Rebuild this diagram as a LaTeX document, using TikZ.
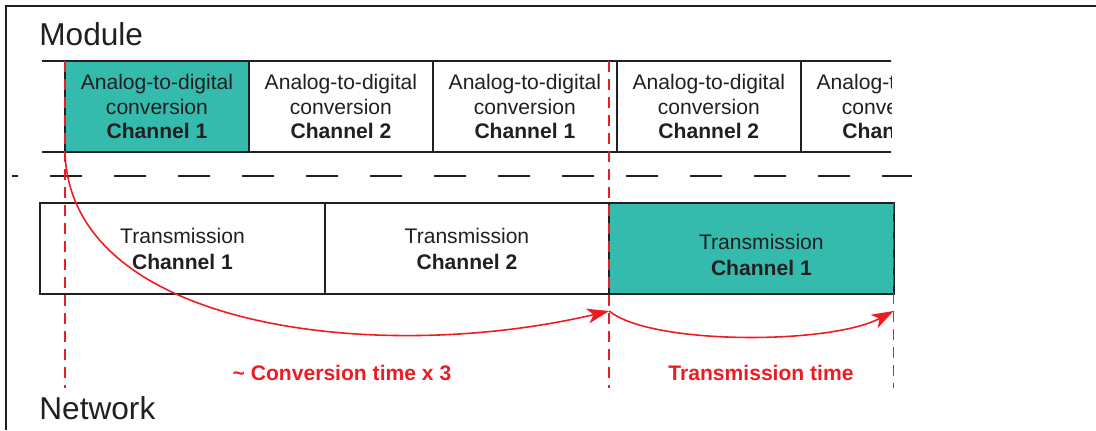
\documentclass[tikz,border=0pt]{standalone}
\usepackage{fontspec}
\setmainfont{Liberation Sans}
\usepackage{tikz}
\usetikzlibrary{arrows.meta,chains}
\definecolor{tealfill}{RGB}{52,187,173}
\definecolor{redline}{RGB}{237,28,36}
\definecolor{darktext}{RGB}{35,31,32}

\begin{document}
\begin{tikzpicture}[
x=0.02cm, y=-0.02cm,
node distance=0pt,
    X/.style = {rectangle, draw=darktext, line width=1.1pt,% boxes of the module row
                minimum width=3.68cm, minimum height=1.82cm,
                inner sep=0pt, outer sep=0pt, align=center,
                font=\fontsize{12}{14.2}\selectfont, on chain},
    T/.style = {rectangle, draw=darktext, line width=1.1pt,% boxes of the network row
                minimum width=5.69cm, minimum height=1.82cm,
                inner sep=0pt, outer sep=0pt, align=center,
                font=\fontsize{12}{14.8}\selectfont, on chain},
    hot/.style = {fill=tealfill},
    guide/.style = {draw=redline, line width=0.9pt, dash pattern=on 0.22cm off 0.14cm},
    timearc/.style = {draw=redline, line width=0.9pt,
                -{Stealth[length=0.44cm, width=0.3cm, inset=0.12cm]}},
    title/.style = {anchor=base west, inner sep=0pt, font=\fontsize{18}{20}\selectfont},
    timelabel/.style = {text=redline, font=\fontsize{12}{14}\selectfont\bfseries},
                        ]
\useasboundingbox (0,0) rectangle (1096,430);
\draw[darktext, line width=0.8pt] (1096,6) -- (6,6) -- (6,430);
\node[title, text=darktext] (module) at (39,45) {Module};
\node[title, text=darktext] (network) at (39,419) {Network};
% module row, cut at both ends
\begin{scope}
\clip (42,40) rectangle (891,170);
\begin{scope}[shift={(-27,106.5)}, start chain=A going right, text=darktext]
\node[X] {};
\node[X, hot] {Analog-to-digital\\conversion\\\textbf{Channel 1}};
\foreach \i in {2,1,2,1}% <-- channel of each conversion
    \node[X] {Analog-to-digital\\conversion\\\textbf{Channel \i}};
\end{scope}
\end{scope}
\draw[darktext, line width=1.2pt, dash pattern=on 0.64cm off 0.64cm, dash phase=0.52cm]
    (12,176) -- (912,176);
% network row
\begin{scope}[shift={(182.5,248.5)}, start chain=B going right, text=darktext]
\foreach \i in {1,2}% <-- channel of each transmission
    \node[T] {Transmission\\\textbf{Channel \i}};
\node[T, hot, label={[align=center, font=\fontsize{12}{14.8}\selectfont,
      xshift=0.2cm, yshift=-0.12cm]center:Transmission\\\textbf{Channel 1}}] {};
\end{scope}
\coordinate (bot) at (0,388);
\draw[guide] (A-2.north west) -- (A-2.north west |- bot);
\draw[guide] (B-3.north west |- A-2.north west) -- (B-3.north west |- bot);
\draw[guide] (B-3.north east) -- (B-3.north east |- bot);
\coordinate (t1) at ([yshift=-0.34cm]B-3.south west);
\coordinate (t2) at ([yshift=-0.34cm]B-3.south east);
\draw[timearc] (A-2.south west) .. controls (70,330) and (380,365) .. (t1);
\draw[timearc] (t1) .. controls (650,345) and (830,345) .. (t2);
\node[timelabel] (conv) at (342,373) {\textasciitilde\ Conversion time x 3};
\node[timelabel] (ttime) at (761,373) {Transmission time};
\end{tikzpicture}
\end{document}
